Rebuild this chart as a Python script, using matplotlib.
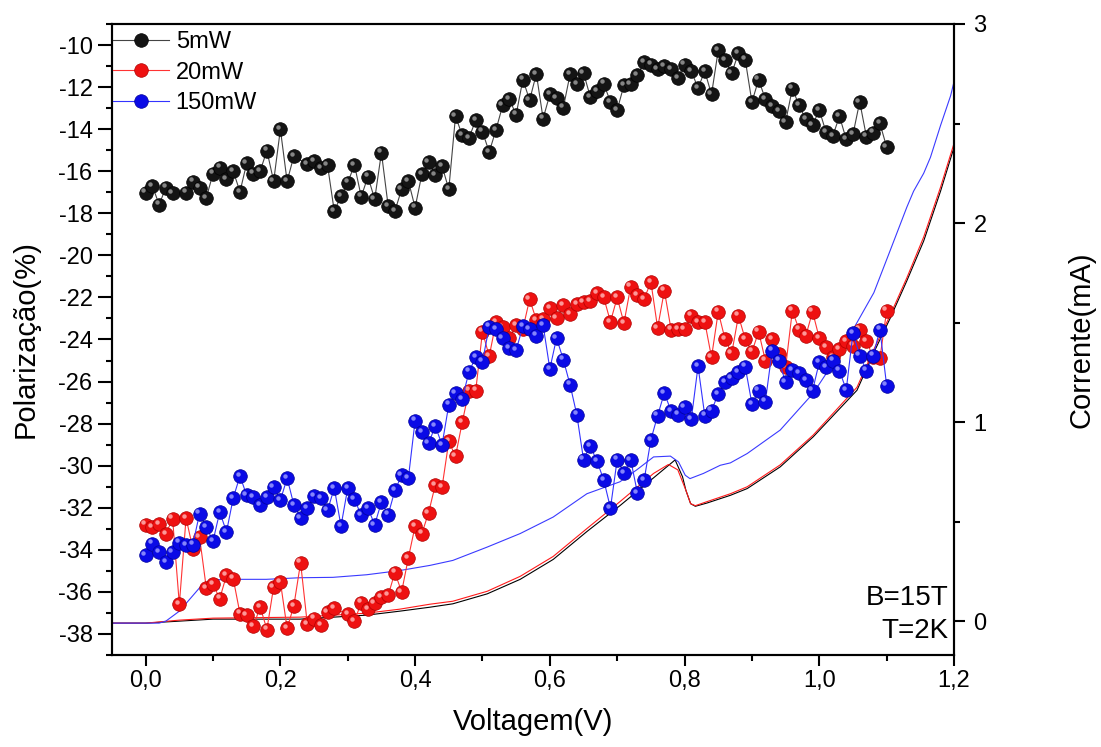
import numpy as np
import matplotlib
matplotlib.use("Agg")
import matplotlib.pyplot as plt
from matplotlib.ticker import MultipleLocator, FuncFormatter
from matplotlib.lines import Line2D
from matplotlib.transforms import ScaledTranslation

plt.rcParams['font.family'] = ['Liberation Sans', 'DejaVu Sans']
plt.rcParams['axes.unicode_minus'] = False

nan = np.nan

# ---------------- data ----------------
voltage = [i / 100 for i in range(111)]

pol_5mW = [
    -17.02, -16.70, -17.59, -16.78, -17.05, nan, -17.02, -16.49, -16.78, -17.27,
    -16.11, -15.83, -16.38, -15.99, -16.98, -15.62, -16.11, -15.99, -15.02, -16.48,
    -14.01, -16.48, -15.28, nan, -15.67, -15.51, -15.86, -15.72, -17.90, -17.18,
    -16.54, -15.70, -17.21, -16.26, -17.33, -15.12, -17.65, -17.89, -16.86, -16.46,
    -17.73, -16.15, -15.56, -16.18, -15.75, -16.86, -13.38, -14.30, -14.41, -13.58,
    -14.12, -15.09, -14.04, -12.87, -12.59, -13.31, -11.64, -12.62, -11.37, -13.50,
    -12.35, -12.51, -12.98, -11.40, -11.87, -11.32, -12.46, -12.19, -11.83, -12.71,
    -13.09, -11.91, -11.87, -11.43, -10.82, -10.93, -11.13, -11.01, -11.16, -11.56,
    -10.93, -11.24, -12.05, -11.24, -12.35, -10.25, -10.72, -11.35, -10.37, -10.69,
    -12.71, -11.64, -12.59, -12.90, -13.14, -13.66, -12.07, -12.87, -13.54, -13.82,
    -13.09, -14.14, -14.33, -13.38, -14.49, -14.25, -12.70, -14.36, -14.17, -13.73,
    -14.85]

pol_20mW = [
    -32.80, -32.92, -32.76, -33.25, -32.52, -36.59, -32.49, -33.94, -33.39, -35.81,
    -35.64, -36.32, -35.21, -35.37, -37.03, -37.11, -37.63, -36.71, -37.79, -35.76,
    -35.52, -37.74, -36.66, -34.61, -37.54, -37.27, -37.58, -36.95, -36.79, nan,
    -37.06, -37.39, -36.51, -36.82, -36.55, -36.24, -36.16, -35.08, -36.00, -34.38,
    -32.87, -33.23, -32.24, -30.91, -31.02, -28.85, -29.55, -27.93, -26.43, -26.43,
    -23.63, -24.80, -23.19, -23.42, -23.94, -23.31, -23.50, -22.08, -23.08, -23.03,
    -22.51, -23.00, -22.36, -22.79, -22.32, -22.21, -22.16, -21.81, -22.00, -23.16,
    -22.00, -23.22, -21.49, -21.89, -22.08, -21.26, -23.45, -21.68, -23.53, -23.50,
    -23.50, -22.87, -23.19, -23.16, -24.85, -22.68, -23.98, -24.66, -22.87, -23.98,
    -24.58, -23.63, -25.01, -23.98, -24.69, -25.32, -22.63, -23.53, -23.82, -22.68,
    -23.93, -24.37, -24.85, -24.45, -24.06, -24.29, -23.53, -24.06, -24.85, -24.90,
    -22.63]

pol_150mW = [
    -34.26, -33.71, -34.10, -34.58, -34.10, -33.66, -33.79, -33.75, -32.28, -32.92,
    -33.58, -32.20, -33.15, -31.54, -30.49, -31.41, -31.49, -31.86, -31.49, -31.02,
    -31.65, -30.59, -31.86, -32.49, -32.01, -31.46, -31.54, -32.13, -31.06, -32.87,
    -31.06, -31.60, -32.36, -32.01, -32.81, -31.73, -32.33, -31.18, -30.46, -30.59,
    -27.86, -28.42, -28.93, -28.12, -29.01, -27.10, -26.54, -26.83, -25.53, -24.85,
    -25.05, -23.39, -23.50, -23.93, -24.42, -24.50, -23.38, -23.50, -23.82, -23.31,
    -25.40, -23.93, -24.96, -26.15, -27.57, -29.71, -29.07, -29.78, -30.68, -32.01,
    -29.71, -30.34, -29.72, -31.29, -30.68, -28.77, -27.62, -26.54, -27.41, -27.57,
    -27.22, -27.79, -25.27, -27.62, -27.38, -26.59, -26.03, -25.84, -25.56, -25.29,
    -27.06, -26.43, -26.95, -24.53, -25.01, -26.03, -25.45, -25.61, -25.92, -26.43,
    -25.08, -25.32, -25.01, -25.48, -26.40, -23.69, -24.77, -25.48, -24.77, -23.53,
    -26.19]

# current curves (right axis)
v_cur_5 = [-0.05, 0.0, 0.05, 0.10, 0.229, 0.328, 0.377, 0.422, 0.456, 0.507, 0.556,
           0.605, 0.655, 0.704, 0.754, 0.786, 0.797, 0.802, 0.809, 0.816, 0.833,
           0.868, 0.893, 0.942, 0.991, 1.056, 1.081, 1.105, 1.130, 1.155, 1.180, 1.2]
i_cur_5 = [-0.01, -0.01, 0.0, 0.01, 0.01, 0.03, 0.05, 0.07, 0.087, 0.137, 0.21,
           0.31, 0.45, 0.58, 0.72, 0.81, 0.725, 0.657, 0.59, 0.577, 0.593,
           0.632, 0.666, 0.775, 0.926, 1.16, 1.35, 1.52, 1.71, 1.91, 2.16, 2.38]

v_cur_20 = [-0.05, 0.0, 0.05, 0.10, 0.229, 0.328, 0.377, 0.422, 0.456, 0.507, 0.556,
            0.605, 0.655, 0.704, 0.754, 0.776, 0.790, 0.802, 0.809, 0.816, 0.833,
            0.868, 0.893, 0.942, 0.991, 1.056, 1.081, 1.105, 1.130, 1.155, 1.180, 1.2]
i_cur_20 = [-0.01, -0.01, 0.005, 0.015, 0.02, 0.04, 0.06, 0.085, 0.10, 0.15, 0.225,
            0.325, 0.465, 0.60, 0.742, 0.787, 0.76, 0.657, 0.59, 0.58, 0.60,
            0.64, 0.675, 0.785, 0.935, 1.175, 1.365, 1.535, 1.725, 1.93, 2.18, 2.40]

v_cur_150 = [-0.05, 0.0, 0.02, 0.03, 0.05, 0.07, 0.085, 0.10, 0.129, 0.179, 0.229,
             0.278, 0.328, 0.377, 0.422, 0.456, 0.507, 0.556, 0.605, 0.655, 0.704,
             0.729, 0.754, 0.779, 0.791, 0.801, 0.808, 0.828, 0.853, 0.868, 0.893,
             0.942, 0.991, 1.031, 1.056, 1.081, 1.105, 1.130, 1.140, 1.155, 1.165,
             1.180, 1.195, 1.2]
i_cur_150 = [-0.01, -0.01, -0.01, 0.0, 0.05, 0.128, 0.187, 0.207, 0.21, 0.21, 0.218,
             0.22, 0.233, 0.254, 0.28, 0.305, 0.372, 0.44, 0.523, 0.64, 0.70,
             0.76, 0.825, 0.829, 0.80, 0.733, 0.716, 0.742, 0.783, 0.795, 0.842,
             0.96, 1.145, 1.35, 1.50, 1.65, 1.86, 2.08, 2.16, 2.25, 2.33,
             2.49, 2.64, 2.71]

labels = ["5mW", "20mW", "150mW"]

# ---------------- figure ----------------
fig = plt.figure(figsize=(11.01, 7.47), dpi=100)
ax = fig.add_axes([0.1017, 0.1232, 0.7648, 0.8447])
ax2 = ax.twinx()
ax.set_zorder(ax2.get_zorder() + 1)
ax.patch.set_visible(False)

# current lines
ax2.plot(v_cur_5, i_cur_5, color='black', lw=0.8)
ax2.plot(v_cur_20, i_cur_20, color='#ff1a1a', lw=0.8)
ax2.plot(v_cur_150, i_cur_150, color='#3a3aff', lw=0.8)

styles = [
    dict(face='#141414', hl='#9a9a9a', edge='#000000', line='#444444'),
    dict(face='#ee1111', hl='#ffb0b0', edge='#b00000', line='#ff3333'),
    dict(face='#0a0ae6', hl='#9a9aff', edge='#00009a', line='#3333ff'),
]

x = np.array(voltage)
off = ScaledTranslation(-1.6 / 72, 1.6 / 72, fig.dpi_scale_trans)
handles = []
for k, (series, st) in enumerate(zip([pol_5mW, pol_20mW, pol_150mW], styles)):
    y = np.array(series, dtype=float)
    m = ~np.isnan(y)
    z = 3 + k
    ax.plot(x[m], y[m], '-', color=st['line'], lw=0.8, zorder=z - 0.2)
    ax.plot(x[m], y[m], 'o', ls='none', ms=9.8, mfc=st['face'], mec=st['edge'],
            mew=0.5, zorder=z)
    ax.plot(x[m], y[m], 'o', ls='none', ms=3.2, mfc=st['hl'], mec='none',
            alpha=0.85, transform=ax.transData + off, zorder=z + 0.1)
    handles.append(Line2D([], [], color=st['line'], lw=0.8, marker='o', ms=9.8,
                          mfc=st['face'], mec=st['edge'], mew=0.5))

leg = ax.legend(handles, labels, loc='upper left', frameon=False, fontsize=17,
                bbox_to_anchor=(0.0, 1.0 - 6.0 / 631), borderaxespad=0.0,
                handlelength=2.35, handletextpad=0.3,
                borderpad=0.05, labelspacing=0.36, numpoints=1)

# axes limits / ticks
ax.set_xlim(-0.05, 1.2)
ax.set_ylim(-39, -9)
ax2.set_ylim(-0.17, 3.0)

ax.xaxis.set_major_locator(MultipleLocator(0.2))
ax.xaxis.set_minor_locator(MultipleLocator(0.1))
ax.xaxis.set_major_formatter(FuncFormatter(lambda v, p: f"{v:.1f}".replace('.', ',')))
ax.yaxis.set_major_locator(MultipleLocator(2))
ax.yaxis.set_minor_locator(MultipleLocator(1))
ax.yaxis.set_major_formatter(FuncFormatter(lambda v, p: f"{int(round(v))}"))
ax2.yaxis.set_major_locator(MultipleLocator(1))
ax2.yaxis.set_minor_locator(MultipleLocator(0.5))
ax2.yaxis.set_major_formatter(FuncFormatter(lambda v, p: f"{int(round(v))}"))

ax.tick_params(axis='x', which='major', direction='out', length=8, width=1.5,
               labelsize=17, pad=3, top=False)
ax.tick_params(axis='x', which='minor', direction='out', length=4.5, width=1.5, top=False)
ax.tick_params(axis='y', which='major', direction='out', length=10, width=1.5,
               labelsize=17, pad=4, right=False)
ax.tick_params(axis='y', which='minor', direction='out', length=4.5, width=1.5, right=False)
ax2.tick_params(axis='y', which='major', direction='out', length=8, width=1.5,
                labelsize=17, pad=6)
ax2.tick_params(axis='y', which='minor', direction='out', length=4.5, width=1.5)

for a in (ax, ax2):
    for s in a.spines.values():
        s.set_linewidth(1.5)

ax.set_xlabel("Voltagem(V)", fontsize=21)
ax.xaxis.set_label_coords(0.5, -0.084)
ax.set_ylabel("Polarização(%)", fontsize=21)
ax.yaxis.set_label_coords(-0.086, 0.5)
ax2.set_ylabel("Corrente(mA)", fontsize=21)
ax2.yaxis.set_label_coords(1.135, 0.5)

ax.text(0.994, 0.09, "B=15T", transform=ax.transAxes, ha='right', va='center', fontsize=20)
ax.text(0.994, 0.038, "T=2K", transform=ax.transAxes, ha='right', va='center', fontsize=20)

fig.savefig("out.png", dpi=100)
